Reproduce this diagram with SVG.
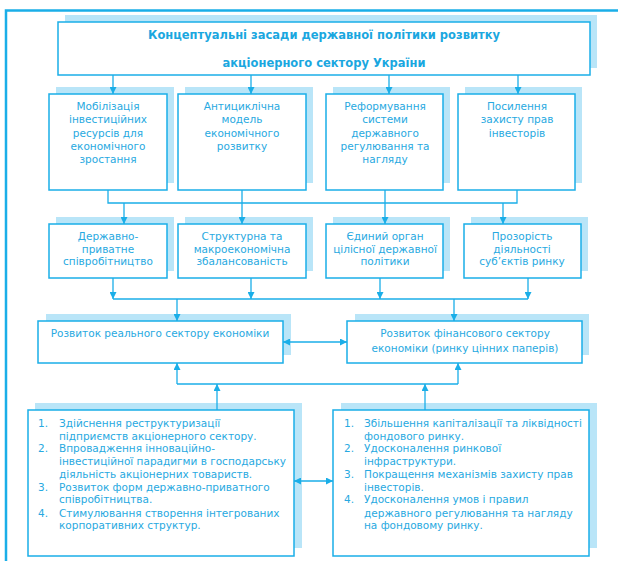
<svg xmlns="http://www.w3.org/2000/svg" width="618" height="561" viewBox="0 0 618 561">
<style>
.sh{fill:#b9e5f8;stroke:none}
.bx{fill:#ffffff;stroke:#1aaee8;stroke-width:1.5}
.t{font-family:"DejaVu Sans","Liberation Sans",sans-serif;font-size:10.5px;fill:#27a9e1;text-anchor:middle}
.tl{font-family:"DejaVu Sans","Liberation Sans",sans-serif;font-size:10.5px;fill:#27a9e1}
.tt{font-family:"DejaVu Sans","Liberation Sans",sans-serif;font-size:11.5px;font-weight:bold;fill:#1aa7e0;text-anchor:middle}
.c{fill:none;stroke:#1aaee8;stroke-width:1.3}
.a{marker-end:url(#ah)}
.b{marker-start:url(#ah);marker-end:url(#ah)}
</style>
<defs>
<marker id="ah" viewBox="0 0 10 10" refX="10" refY="5" markerWidth="7" markerHeight="7" markerUnits="userSpaceOnUse" orient="auto-start-reverse">
<path d="M0,0 L10,5 L0,10 z" fill="#1aaee8"/>
</marker>
</defs>
<rect x="0" y="0" width="618" height="561" fill="#ffffff"/>
<rect x="6" y="10.5" width="700" height="700" fill="none" stroke="#1aaee8" stroke-width="2.5"/>

<g id="title">
<rect class="sh" x="65" y="15" width="532" height="53"/>
<rect class="bx" x="58" y="22" width="532" height="53"/>
<text class="tt" x="324" y="38.5">Концептуальні засади державної політики розвитку</text>
<text class="tt" x="324" y="66.5">акціонерного сектору України</text>
</g>

<g id="r1n1">
<rect class="sh" x="56" y="87" width="118" height="96"/>
<rect class="bx" x="49" y="94" width="118" height="96"/>
<text class="t" x="108" y="110">Мобілізація</text>
<text class="t" x="108" y="123">інвестиційних</text>
<text class="t" x="108" y="136.5">ресурсів для</text>
<text class="t" x="108" y="149.5">економічного</text>
<text class="t" x="108" y="162.5">зростання</text>
</g>
<g id="r1n2">
<rect class="sh" x="185" y="87" width="128" height="96"/>
<rect class="bx" x="178" y="94" width="128" height="96"/>
<text class="t" x="242" y="110">Антициклічна</text>
<text class="t" x="242" y="123">модель</text>
<text class="t" x="242" y="136.5">економічного</text>
<text class="t" x="242" y="149.5">розвитку</text>
</g>
<g id="r1n3">
<rect class="sh" x="333" y="87" width="117" height="96"/>
<rect class="bx" x="326" y="94" width="117" height="96"/>
<text class="t" x="385" y="110">Реформування</text>
<text class="t" x="385" y="123">системи</text>
<text class="t" x="385" y="136.5">державного</text>
<text class="t" x="385" y="149.5">регулювання та</text>
<text class="t" x="385" y="162.5">нагляду</text>
</g>
<g id="r1n4">
<rect class="sh" x="465" y="87" width="117" height="96"/>
<rect class="bx" x="458" y="94" width="117" height="96"/>
<text class="t" x="517" y="110">Посилення</text>
<text class="t" x="517" y="123">захисту прав</text>
<text class="t" x="517" y="136.5">інвесторів</text>
</g>

<g id="r2n1">
<rect class="sh" x="56" y="217" width="118" height="54"/>
<rect class="bx" x="49" y="224" width="118" height="54"/>
<text class="t" x="108" y="240">Державно-</text>
<text class="t" x="108" y="252.5">приватне</text>
<text class="t" x="108" y="265">співробітництво</text>
</g>
<g id="r2n2">
<rect class="sh" x="185" y="217" width="128" height="54"/>
<rect class="bx" x="178" y="224" width="128" height="54"/>
<text class="t" x="242" y="240">Структурна та</text>
<text class="t" x="242" y="252.5">макроекономічна</text>
<text class="t" x="242" y="265">збалансованість</text>
</g>
<g id="r2n3">
<rect class="sh" x="333" y="217" width="117" height="54"/>
<rect class="bx" x="326" y="224" width="117" height="54"/>
<text class="t" x="385" y="240">Єдиний орган</text>
<text class="t" x="385" y="252.5">цілісної державної</text>
<text class="t" x="385" y="265">політики</text>
</g>
<g id="r2n4">
<rect class="sh" x="471" y="217" width="117" height="54"/>
<rect class="bx" x="464" y="224" width="117" height="54"/>
<text class="t" x="522" y="240">Прозорість</text>
<text class="t" x="522" y="252.5">діяльності</text>
<text class="t" x="522" y="265">суб’єктів ринку</text>
</g>

<g id="real">
<rect class="sh" x="46" y="314" width="245" height="41"/>
<rect class="bx" x="38" y="321" width="245" height="42"/>
<text class="t" x="160" y="337">Розвиток реального сектору економіки</text>
</g>
<g id="fin">
<rect class="sh" x="355" y="314" width="234" height="41"/>
<rect class="bx" x="347" y="321" width="235" height="42"/>
<text class="t" x="465" y="337">Розвиток фінансового сектору</text>
<text class="t" x="465" y="352">економіки (ринку цінних паперів)</text>
</g>

<g id="listL">
<rect class="sh" x="35" y="403" width="267" height="145"/>
<rect class="bx" x="28" y="410" width="266" height="146"/>
<text class="tl" x="38" y="427">1.</text>
<text class="tl" x="59" y="427">Здійснення реструктуризації</text>
<text class="tl" x="59" y="439.5">підприємств акціонерного сектору.</text>
<text class="tl" x="38" y="452">2.</text>
<text class="tl" x="59" y="452">Впровадження інноваційно-</text>
<text class="tl" x="59" y="465">інвестиційної парадигми в господарську</text>
<text class="tl" x="59" y="477.5">діяльність акціонерних товариств.</text>
<text class="tl" x="38" y="490.5">3.</text>
<text class="tl" x="59" y="490.5">Розвиток форм державно-приватного</text>
<text class="tl" x="59" y="503">співробітництва.</text>
<text class="tl" x="38" y="516.5">4.</text>
<text class="tl" x="59" y="516.5">Стимулювання створення інтегрованих</text>
<text class="tl" x="59" y="529">корпоративних структур.</text>
</g>
<g id="listR">
<rect class="sh" x="341" y="403" width="256" height="145"/>
<rect class="bx" x="333" y="410" width="256" height="146"/>
<text class="tl" x="344" y="427">1.</text>
<text class="tl" x="364" y="427">Збільшення капіталізації та ліквідності</text>
<text class="tl" x="364" y="439.5">фондового ринку.</text>
<text class="tl" x="344" y="452">2.</text>
<text class="tl" x="364" y="452">Удосконалення ринкової</text>
<text class="tl" x="364" y="464.5">інфраструктури.</text>
<text class="tl" x="344" y="478">3.</text>
<text class="tl" x="364" y="478">Покращення механізмів захисту прав</text>
<text class="tl" x="364" y="490.5">інвесторів.</text>
<text class="tl" x="344" y="503">4.</text>
<text class="tl" x="364" y="503">Удосконалення умов і правил</text>
<text class="tl" x="364" y="516.5">державного регулювання та нагляду</text>
<text class="tl" x="364" y="529">на фондовому ринку.</text>
</g>

<g id="connectors">
<path class="c a" d="M113,75 V94"/>
<path class="c a" d="M251,75 V94"/>
<path class="c a" d="M389,75 V94"/>
<path class="c a" d="M518,75 V94"/>
<path class="c" d="M108,190 V203 H517 V190"/>
<path class="c a" d="M124,203 V224"/>
<path class="c a" d="M242,190 V224"/>
<path class="c a" d="M385,190 V224"/>
<path class="c a" d="M503,203 V224"/>
<path class="c a" d="M113,278 V299"/>
<path class="c a" d="M251,278 V299"/>
<path class="c a" d="M380,278 V299"/>
<path class="c a" d="M528,278 V299"/>
<path class="c" d="M113,299 H528"/>
<path class="c a" d="M177,299 V321"/>
<path class="c a" d="M454,299 V321"/>
<path class="c b" d="M283,342 H347"/>
<path class="c" d="M177,384 H458"/>
<path class="c a" d="M177,384 V363"/>
<path class="c a" d="M458,384 V363"/>
<path class="c a" d="M217,410 V384"/>
<path class="c a" d="M425,410 V384"/>
<path class="c b" d="M294,481 H333"/>
</g>
</svg>
